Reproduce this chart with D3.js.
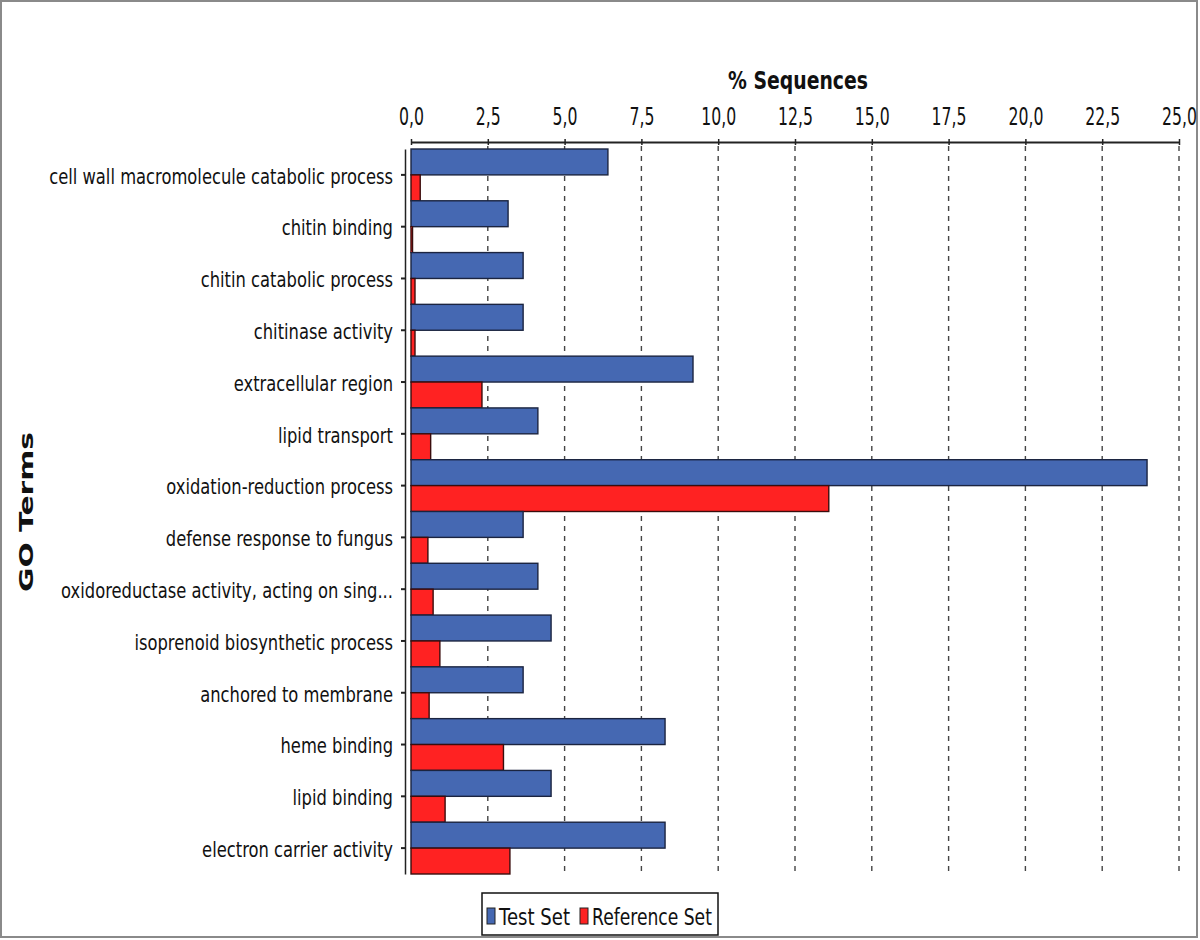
<!DOCTYPE html>
<html>
<head>
<meta charset="utf-8">
<script src="https://cdn.jsdelivr.net/npm/d3@7"></script>
<style>
  html, body { margin: 0; padding: 0; background: #fff; }
  svg { display: block; }
  text { font-family: "DejaVu Sans", sans-serif; fill: #111; }
</style>
</head>
<body>
<svg id="chart" width="1200" height="940"></svg>
<script>
// ---------- data ----------
const categories = [
  "cell wall macromolecule catabolic process",
  "chitin binding",
  "chitin catabolic process",
  "chitinase activity",
  "extracellular region",
  "lipid transport",
  "oxidation-reduction process",
  "defense response to fungus",
  "oxidoreductase activity, acting on sing...",
  "isoprenoid biosynthetic process",
  "anchored to membrane",
  "heme binding",
  "lipid binding",
  "electron carrier activity"
];
const testSet = [6.41, 3.16, 3.65, 3.65, 9.18, 4.13, 23.96, 3.65, 4.13, 4.56, 3.65, 8.27, 4.56, 8.27];
const referenceSet = [0.30, 0.05, 0.13, 0.13, 2.31, 0.64, 13.60, 0.55, 0.72, 0.94, 0.59, 3.01, 1.11, 3.22];
const seriesNames = ["Test Set", "Reference Set"];
const seriesColors = ["#4568b2", "#ff2222"];
const xTicks = [0, 2.5, 5, 7.5, 10, 12.5, 15, 17.5, 20, 22.5, 25];
const xTitle = "% Sequences";
const yTitle = "GO Terms";

// ---------- layout ----------
const svg = d3.select("#chart");
const x = d3.scaleLinear().domain([0, 25]).range([411, 1179]);
const y = d3.scaleBand().domain(categories).range([149, 874]).paddingInner(0).paddingOuter(0);
const ySub = d3.scaleBand().domain(seriesNames).range([0, y.bandwidth()]).padding(0);

// outer frame
svg.append("rect").attr("x", 1).attr("y", 1).attr("width", 1196).attr("height", 936)
  .attr("fill", "#fff").attr("stroke", "#8a8a8a").attr("stroke-width", 2);

function squeeze(sel, target, sample) {
  const tmp = svg.append("text").text(sample)
    .attr("font-size", sel.attr("font-size"))
    .attr("font-weight", sel.attr("font-weight"));
  const w = tmp.node().getComputedTextLength();
  tmp.remove();
  return target / w;
}

// grid lines
svg.append("g").selectAll("line").data(xTicks.filter(d => d > 0)).join("line")
  .attr("x1", d => x(d)).attr("x2", d => x(d))
  .attr("y1", 146).attr("y2", 874)
  .attr("stroke", "#444").attr("stroke-width", 1.4).attr("stroke-dasharray", "5,5");

// bars
const groups = svg.append("g").selectAll("g").data(categories).join("g")
  .attr("transform", d => `translate(0,${y(d)})`);
groups.each(function(cat, i) {
  const vals = [testSet[i], referenceSet[i]];
  d3.select(this).selectAll("rect").data(seriesNames).join("rect")
    .attr("x", x(0))
    .attr("y", s => ySub(s))
    .attr("width", (s, j) => Math.max(0, x(vals[j]) - x(0)))
    .attr("height", ySub.bandwidth())
    .attr("fill", (s, j) => seriesColors[j])
    .attr("stroke", (s, j) => j === 0 ? "#1b2440" : "#3a0d0d")
    .attr("stroke-width", 1.4);
});

// top axis
const fmt = d => d3.format(".1f")(d).replace(".", ",");
const xAxis = svg.append("g").attr("transform", "translate(0,142)")
  .call(d3.axisTop(x).tickValues(xTicks).tickFormat(fmt).tickSizeInner(3).tickSizeOuter(0).tickPadding(14));
xAxis.select(".domain").attr("stroke", "#222").attr("stroke-width", 2.2);
xAxis.selectAll(".tick line").attr("stroke", "#222").attr("stroke-width", 1.5).attr("y1", 3).attr("y2", -3);
xAxis.selectAll(".tick text").attr("font-size", 24).attr("font-family", "DejaVu Sans").attr("fill", "#111");
const sxTick = squeeze(xAxis.select(".tick text"), 35, "25,0");
xAxis.selectAll(".tick text").attr("transform", `scale(${sxTick},1)`);

// left axis
const yAxis = svg.append("g").attr("transform", "translate(405,0)")
  .call(d3.axisLeft(y).tickSizeInner(4).tickSizeOuter(0).tickPadding(8));
yAxis.select(".domain").attr("stroke", "#222").attr("stroke-width", 1.5);
yAxis.selectAll(".tick line").attr("stroke", "#222").attr("stroke-width", 2);
yAxis.selectAll(".tick text").attr("font-size", 22).attr("dy", "0.4em")
  .attr("font-family", "DejaVu Sans").attr("fill", "#111");
const sxCat = squeeze(yAxis.select(".tick text"), 344, categories[0]);
yAxis.selectAll(".tick text").each(function() {
  const t = d3.select(this);
  const tx = +t.attr("x");
  t.attr("transform", `translate(${tx},0) scale(${sxCat},1) translate(${-tx},0)`);
});

// x title
const tTitle = svg.append("text").text(xTitle)
  .attr("font-size", 25).attr("font-weight", "bold").attr("text-anchor", "middle");
const sxTitle = squeeze(tTitle, 140, xTitle);
tTitle.attr("transform", `translate(798,89) scale(${sxTitle},1)`);

// y title
const yT = svg.append("text").text(yTitle)
  .attr("font-size", 20).attr("font-weight", "bold").attr("text-anchor", "middle");
const sY = squeeze(yT, 160, yTitle);
yT.attr("transform", `translate(33,512) rotate(-90) scale(${sY},1)`);

// legend
const leg = svg.append("g");
leg.append("rect").attr("x", 482).attr("y", 893).attr("width", 236).attr("height", 42)
  .attr("fill", "#fff").attr("stroke", "#111").attr("stroke-width", 1.5);
const legPos = [{sw: 487, tx: 499, target: 71}, {sw: 580, tx: 592, target: 120}];
seriesNames.forEach((s, i) => {
  leg.append("rect").attr("x", legPos[i].sw).attr("y", 908).attr("width", 8).attr("height", 16)
    .attr("fill", seriesColors[i]).attr("stroke", "#222").attr("stroke-width", 1);
  const t = leg.append("text").text(s).attr("font-size", 23);
  const sx = squeeze(t, legPos[i].target, s);
  t.attr("transform", `translate(${legPos[i].tx},925) scale(${sx},1)`);
});
</script>
</body>
</html>
